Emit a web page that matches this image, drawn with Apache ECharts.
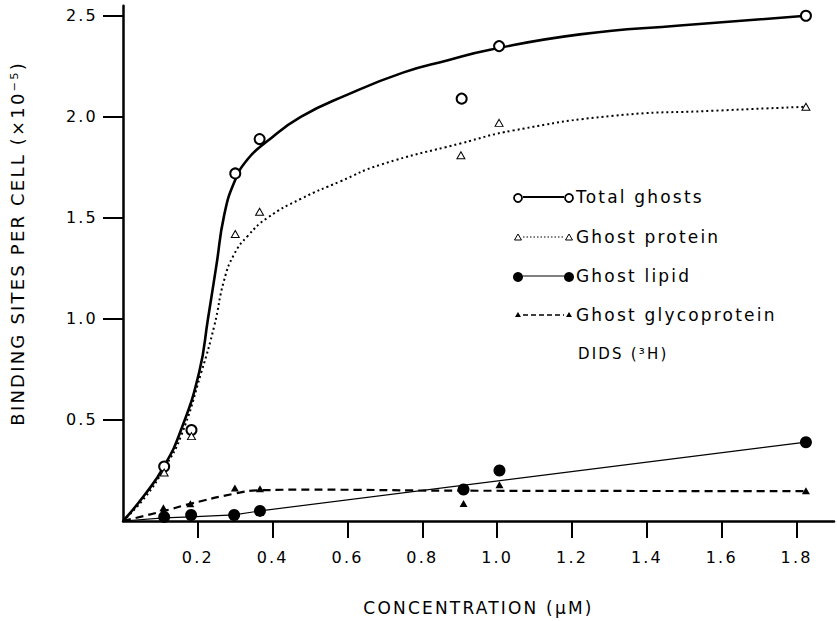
<!DOCTYPE html>
<html>
<head>
<meta charset="utf-8">
<script src="https://cdn.jsdelivr.net/npm/echarts@6/dist/echarts.min.js"></script>
<style>
html,body{margin:0;padding:0;background:#fff}
#main{width:837px;height:621px;letter-spacing:2.2px}
</style>
</head>
<body>
<div id="main"></div>
<script>
// measured points [conc (uM), sites x1e-5]
var totalPts = [[0.11,0.27],[0.183,0.45],[0.30,1.72],[0.365,1.89],[0.905,2.09],[1.005,2.35],[1.825,2.50]];
var proteinPts = [[0.11,0.24],[0.183,0.42],[0.30,1.42],[0.365,1.53],[0.903,1.81],[1.005,1.97],[1.825,2.05]];
var lipidPts = [[0.11,0.02],[0.182,0.03],[0.297,0.03],[0.366,0.05],[0.91,0.156],[1.006,0.25],[1.825,0.39]];
var glycoPts = [[0.108,0.065],[0.18,0.085],[0.299,0.163],[0.366,0.16],[0.91,0.087],[1.006,0.18],[1.825,0.15]];

// hand fitted curves
var totalCurve = [[0,0],[0.057,0.127],[0.11,0.272],[0.155,0.45],[0.204,0.74],[0.227,1.0],[0.25,1.27],
  [0.27,1.51],[0.297,1.675],[0.333,1.79],[0.386,1.88],[0.475,2.0],[0.6,2.11],[0.75,2.22],[0.866,2.279],
  [0.981,2.332],[1.221,2.408],[1.488,2.452],[1.825,2.50]];
var proteinCurve = [[0,0],[0.06,0.12],[0.11,0.26],[0.155,0.42],[0.21,0.74],[0.244,0.966],
  [0.27,1.19],[0.297,1.32],[0.333,1.41],[0.386,1.50],[0.475,1.594],[0.58,1.68],[0.688,1.763],[0.901,1.868],
  [1.044,1.933],[1.31,2.005],[1.577,2.03],[1.825,2.05]];
var lipidCurve = [[0,0],[0.11,0.015],[0.18,0.02],[0.297,0.03],[0.366,0.05],[1.825,0.39]];
var glycoCurve = [[0,0],[0.11,0.05],[0.18,0.085],[0.297,0.135],[0.366,0.152],[0.5,0.155],[0.9,0.15],[1.825,0.148]];

var xTicks = [0.2,0.4,0.6,0.8,1.0,1.2,1.4,1.6,1.8];
var yTicks = [0.5,1.0,1.5,2.0,2.5];
var legendNames = ['Total ghosts','Ghost protein','Ghost lipid','Ghost glycoprotein'];

var FONT = '"DejaVu Sans"';
var myChart = echarts.init(document.getElementById('main'), null, {renderer:'svg'});

// legend drawn by hand (symbol - line - symbol)
function legendRow(i, y) {
	var g = [];
	var x1 = 518, x2 = 569;
	var line = {type:'line', shape:{x1:x1+5,y1:y,x2:x2-5,y2:y}, style:{stroke:'#000',lineWidth:2}};
	if (i == 1) { line.style.lineWidth = 1.2; line.style.lineDash = [1.5,2]; }
	if (i == 2) { line.style.lineWidth = 1; }
	if (i == 3) { line.style.lineWidth = 1.5; line.style.lineDash = [5,3]; }
	g.push(line);
	[x1, x2].forEach(function(cx) {
		if (i == 0) g.push({type:'circle', shape:{cx:cx,cy:y+1,r:4}, style:{fill:'#fff',stroke:'#000',lineWidth:1.8}});
		if (i == 1) g.push({type:'polygon', shape:{points:[[cx,y-3],[cx-3.5,y+3],[cx+3.5,y+3]]}, style:{fill:'#fff',stroke:'#000',lineWidth:1}});
		if (i == 2) g.push({type:'circle', shape:{cx:cx,cy:y+1,r:5}, style:{fill:'#000'}});
		if (i == 3) g.push({type:'polygon', shape:{points:[[cx,y-3],[cx-3,y+2],[cx+3,y+2]]}, style:{fill:'#000'}});
	});
	g.push({type:'text', x:576, y:y, style:{text:legendNames[i], fill:'#000', font:'17px ' + FONT, verticalAlign:'middle'}});
	return g;
}
var graphics = [];
var rowsY = [197, 237, 276, 315];
for (var i = 0; i < 4; i++) graphics = graphics.concat(legendRow(i, rowsY[i]));
graphics.push({type:'text', x:578, y:354, style:{text:'DIDS (³H)', fill:'#000', font:'15px ' + FONT, verticalAlign:'middle'}});

var option = {
	animation : false,
	backgroundColor : '#fff',
	grid : {
		left : 122,
		right : 3,
		top : 5.7,
		bottom : 88
	},
	xAxis : {
		type : 'value',
		min : 0,
		max : 1.9,
		name : 'CONCENTRATION (μM)',
		nameLocation : 'middle',
		nameGap : 78,
		nameTextStyle : { color:'#000', fontSize:17, fontFamily:FONT },
		axisLine : { lineStyle : { color:'#000', width:2.5 } },
		axisTick : { customValues:xTicks, length:17, lineStyle:{ color:'#000', width:2 } },
		axisLabel : {
			customValues : xTicks,
			margin : 28,
			color : '#000',
			fontSize : 16,
			fontFamily : FONT,
			formatter : function(v) { return v.toFixed(1); }
		},
		splitLine : { show:false }
	},
	yAxis : {
		type : 'value',
		min : 0,
		max : 2.55,
		name : 'BINDING SITES PER CELL (×10⁻⁵)',
		nameLocation : 'middle',
		nameGap : 97,
		nameRotate : 90,
		nameTextStyle : { color:'#000', fontSize:18, fontFamily:FONT, padding:[0,0,0,40] },
		axisLine : { lineStyle : { color:'#000', width:2.5 } },
		axisTick : { customValues:yTicks, length:20, lineStyle:{ color:'#000', width:2 } },
		axisLabel : {
			customValues : yTicks,
			margin : 25,
			color : '#000',
			fontSize : 16,
			fontFamily : FONT,
			formatter : function(v) { return v.toFixed(1); }
		},
		splitLine : { show:false }
	},
	graphic : graphics,
	series : [ {
		type : 'line', data : totalCurve, showSymbol : false, smooth : 0.5,
		lineStyle : { color:'#000', width:2.6 }, z : 2
	}, {
		type : 'line', data : proteinCurve, showSymbol : false, smooth : 0.5,
		lineStyle : { color:'#000', width:2, type:[2,3] }, z : 2
	}, {
		type : 'line', data : lipidCurve, showSymbol : false, smooth : false,
		lineStyle : { color:'#000', width:1.2 }, z : 2
	}, {
		type : 'line', data : glycoCurve, showSymbol : false, smooth : 0.5,
		lineStyle : { color:'#000', width:2.2, type:[8,5] }, z : 2
	}, {
		type : 'scatter', data : totalPts, symbol : 'circle', symbolSize : 10,
		itemStyle : { color:'#fff', borderColor:'#000', borderWidth:2, opacity:1 }, z : 5
	}, {
		type : 'scatter', data : proteinPts, symbol : 'triangle', symbolSize : [8,7],
		itemStyle : { color:'#fff', borderColor:'#000', borderWidth:1, opacity:1 }, z : 5
	}, {
		type : 'scatter', data : lipidPts, symbol : 'circle', symbolSize : 12,
		itemStyle : { color:'#000', opacity:1 }, z : 5
	}, {
		type : 'scatter', data : glycoPts, symbol : 'triangle', symbolSize : [8,7],
		itemStyle : { color:'#000', opacity:1 }, z : 5
	} ]
};
myChart.setOption(option);
</script>
</body>
</html>
